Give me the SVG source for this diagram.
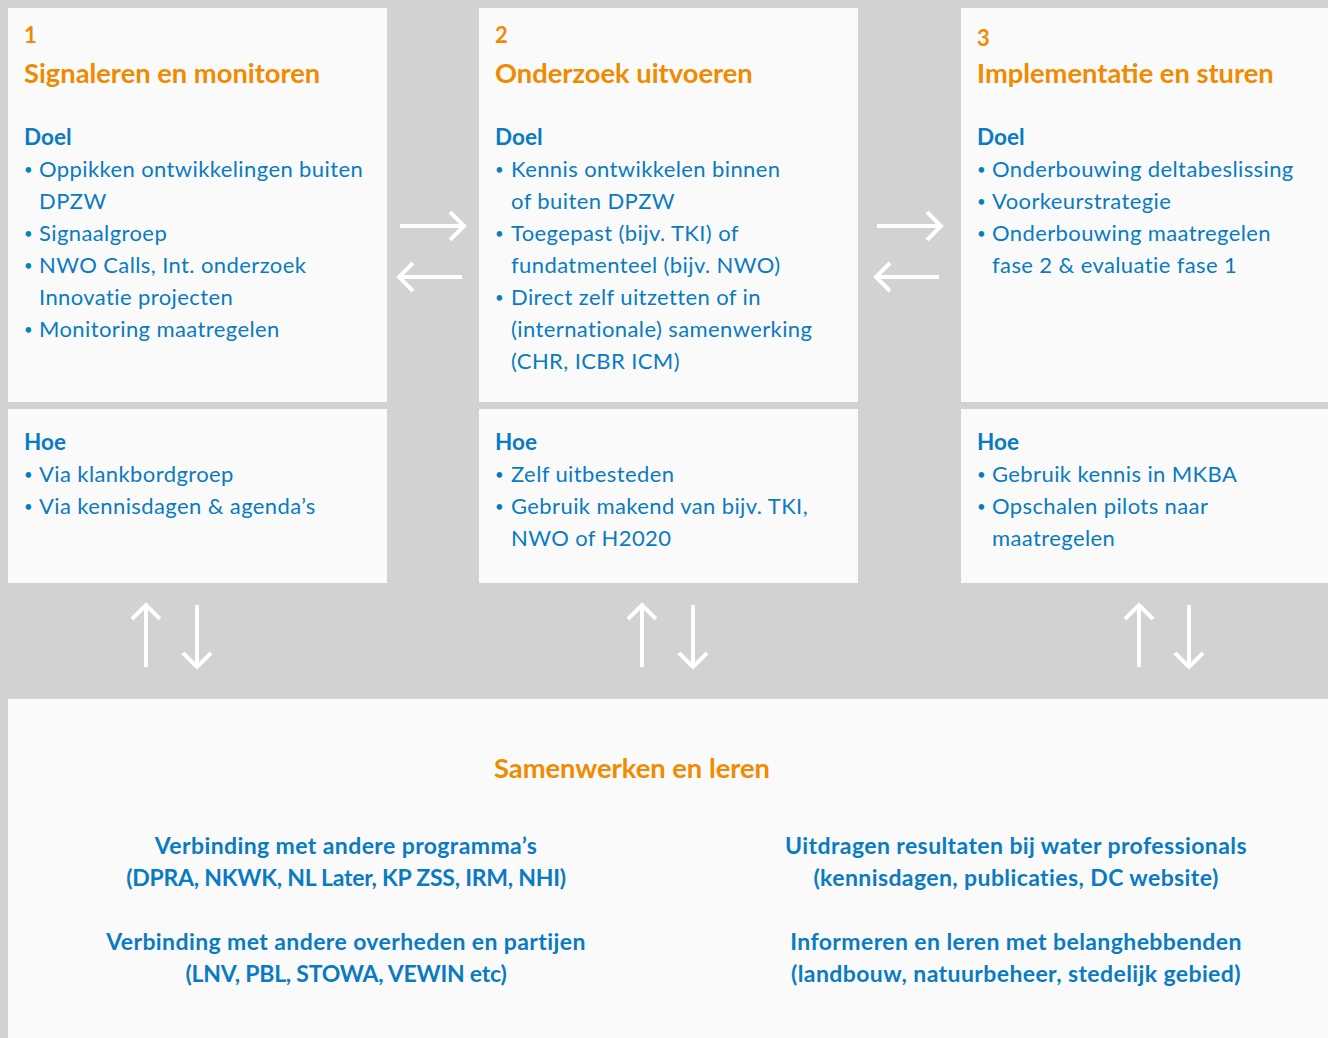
<svg xmlns="http://www.w3.org/2000/svg" width="1328" height="1038" viewBox="0 0 1328 1038">
<defs>
<style>
.bg{fill:#d1d2d4}
.panel{fill:#fafafa}
.num{font-family:Lato,"Liberation Sans",sans-serif;font-size:22px;font-weight:700;fill:#f08a00}
.title{font-family:Lato,"Liberation Sans",sans-serif;font-size:27.3px;font-weight:700;fill:#f08a00}
.head{font-family:Lato,"Liberation Sans",sans-serif;font-size:22.5px;font-weight:700;fill:#0a7bc2}
.body{font-family:Lato,"Liberation Sans",sans-serif;font-size:22px;font-weight:400;letter-spacing:0.4px;fill:#0a7bc2}
.dot{font-size:15px}
.bold{font-family:Lato,"Liberation Sans",sans-serif;font-size:23px;font-weight:700;letter-spacing:0.4px;fill:#0a7bc2;text-anchor:middle}
.tight{letter-spacing:-0.25px}
.arrow{stroke:#ffffff;stroke-width:4;fill:none;stroke-linecap:butt;stroke-linejoin:miter}
</style>
</defs>
<rect class="bg" x="0" y="0" width="1328" height="1038"/>

<g id="node-signaleren">
<rect class="panel" x="8" y="8" width="379" height="394"/>
<text class="num" x="24" y="43">1</text>
<text class="title" x="24" y="83">Signaleren en monitoren</text>
<text class="head" x="24" y="145">Doel</text>
<text class="body"><tspan class="dot" x="24" y="175">•</tspan><tspan x="39" y="177">Oppikken ontwikkelingen buiten</tspan><tspan x="39" y="209">DPZW</tspan><tspan class="dot" x="24" y="239">•</tspan><tspan x="39" y="241">Signaalgroep</tspan><tspan class="dot" x="24" y="271">•</tspan><tspan x="39" y="273">NWO Calls, Int. onderzoek</tspan><tspan x="39" y="305">Innovatie projecten</tspan><tspan class="dot" x="24" y="335">•</tspan><tspan x="39" y="337">Monitoring maatregelen</tspan></text>
</g>
<g id="node-signaleren-hoe">
<rect class="panel" x="8" y="409" width="379" height="174"/>
<text class="head" x="24" y="450">Hoe</text>
<text class="body"><tspan class="dot" x="24" y="480">•</tspan><tspan x="39" y="482">Via klankbordgroep</tspan><tspan class="dot" x="24" y="512">•</tspan><tspan x="39" y="514">Via kennisdagen &amp; agenda’s</tspan></text>
</g>

<g id="node-onderzoek">
<rect class="panel" x="479" y="8" width="379" height="394"/>
<text class="num" x="495" y="43">2</text>
<text class="title" x="495" y="83">Onderzoek uitvoeren</text>
<text class="head" x="495" y="145">Doel</text>
<text class="body"><tspan class="dot" x="495" y="175">•</tspan><tspan x="511" y="177">Kennis ontwikkelen binnen</tspan><tspan x="511" y="209">of buiten DPZW</tspan><tspan class="dot" x="495" y="239">•</tspan><tspan x="511" y="241">Toegepast (bijv. TKI) of</tspan><tspan x="511" y="273">fundatmenteel (bijv. NWO)</tspan><tspan class="dot" x="495" y="303">•</tspan><tspan x="511" y="305">Direct zelf uitzetten of in</tspan><tspan x="511" y="337">(internationale) samenwerking</tspan><tspan x="511" y="369">(CHR, ICBR ICM)</tspan></text>
</g>
<g id="node-onderzoek-hoe">
<rect class="panel" x="479" y="409" width="379" height="174"/>
<text class="head" x="495" y="450">Hoe</text>
<text class="body"><tspan class="dot" x="495" y="480">•</tspan><tspan x="511" y="482">Zelf uitbesteden</tspan><tspan class="dot" x="495" y="512">•</tspan><tspan x="511" y="514">Gebruik makend van bijv. TKI,</tspan><tspan x="511" y="546">NWO of H2020</tspan></text>
</g>

<g id="node-implementatie">
<rect class="panel" x="961" y="8" width="367" height="394"/>
<text class="num" x="977" y="46">3</text>
<text class="title" x="977" y="83">Implementatie en sturen</text>
<text class="head" x="977" y="145">Doel</text>
<text class="body"><tspan class="dot" x="977" y="175">•</tspan><tspan x="992" y="177">Onderbouwing deltabeslissing</tspan><tspan class="dot" x="977" y="207">•</tspan><tspan x="992" y="209">Voorkeurstrategie</tspan><tspan class="dot" x="977" y="239">•</tspan><tspan x="992" y="241">Onderbouwing maatregelen</tspan><tspan x="992" y="273">fase 2 &amp; evaluatie fase 1</tspan></text>
</g>
<g id="node-implementatie-hoe">
<rect class="panel" x="961" y="409" width="367" height="174"/>
<text class="head" x="977" y="450">Hoe</text>
<text class="body"><tspan class="dot" x="977" y="480">•</tspan><tspan x="992" y="482">Gebruik kennis in MKBA</tspan><tspan class="dot" x="977" y="512">•</tspan><tspan x="992" y="514">Opschalen pilots naar</tspan><tspan x="992" y="546">maatregelen</tspan></text>
</g>

<g id="node-samenwerken">
<rect class="panel" x="8" y="699" width="1320" height="339"/>
<text class="title" x="632" y="778" text-anchor="middle">Samenwerken en leren</text>
<text class="bold"><tspan x="346" y="854">Verbinding met andere programma’s</tspan><tspan class="tight" x="346" y="886">(DPRA, NKWK, NL Later, KP ZSS, IRM, NHI)</tspan><tspan x="346" y="950">Verbinding met andere overheden en partijen</tspan><tspan class="tight" x="346" y="982">(LNV, PBL, STOWA, VEWIN etc)</tspan></text>
<text class="bold"><tspan x="1016" y="854">Uitdragen resultaten bij water professionals</tspan><tspan x="1016" y="886">(kennisdagen, publicaties, DC website)</tspan><tspan x="1016" y="950">Informeren en leren met belanghebbenden</tspan><tspan x="1016" y="982">(landbouw, natuurbeheer, stedelijk gebied)</tspan></text>
</g>

<g id="connectors">
<path class="arrow" d="M400 226H464M450 212L464 226L450 240"/>
<path class="arrow" d="M462 277H399M413 263L399 277L413 291"/>
<path class="arrow" d="M877 226H941M927 212L941 226L927 240"/>
<path class="arrow" d="M939 277H876M890 263L876 277L890 291"/>
<path class="arrow" d="M146 667V605M132 619L146 605L160 619"/>
<path class="arrow" d="M197 605V667M183 653L197 667L211 653"/>
<path class="arrow" d="M642 667V605M628 619L642 605L656 619"/>
<path class="arrow" d="M693 605V667M679 653L693 667L707 653"/>
<path class="arrow" d="M1139 667V605M1125 619L1139 605L1153 619"/>
<path class="arrow" d="M1189 605V667M1175 653L1189 667L1203 653"/>
</g>
</svg>
